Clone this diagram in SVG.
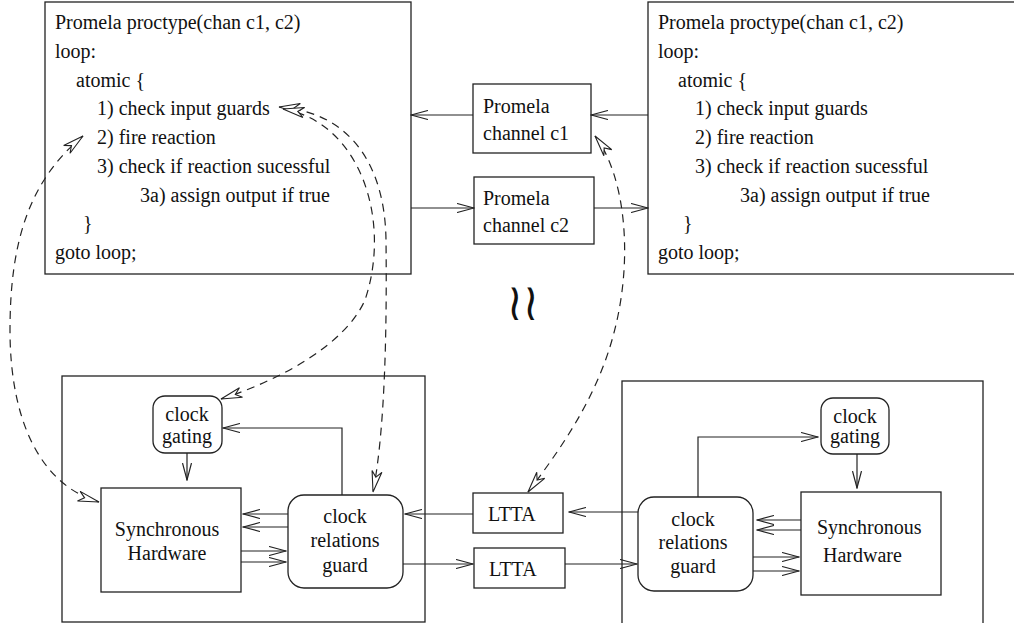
<svg xmlns="http://www.w3.org/2000/svg" width="1014" height="623" viewBox="0 0 1014 623" font-family="'Liberation Serif', 'Times New Roman', serif">
<style>
.t{font-family:'Liberation Serif','Times New Roman',serif;font-size:20px;fill:#111}
.m{text-anchor:middle}
.b{fill:none;stroke:#222;stroke-width:1.3}
.c{fill:none;stroke:#222;stroke-width:1.2}
.d{fill:none;stroke:#222;stroke-width:1.2;stroke-dasharray:8 6}
</style>
<defs>
<marker id="v" viewBox="0 0 18 10" refX="17" refY="5" markerWidth="18" markerHeight="10" markerUnits="userSpaceOnUse" orient="auto">
<path d="M0,0.5 L17,5 L0,9.5" fill="none" stroke="#222" stroke-width="1.2"/>
</marker>
<marker id="h" viewBox="0 0 23 12" refX="22" refY="6" markerWidth="23" markerHeight="12" markerUnits="userSpaceOnUse" orient="auto">
<path d="M22,6 L1,1 L7,6 L1,11 Z" fill="#fff" stroke="#222" stroke-width="1.1"/>
</marker>
<marker id="hs" viewBox="0 0 23 12" refX="1" refY="6" markerWidth="23" markerHeight="12" markerUnits="userSpaceOnUse" orient="auto">
<path d="M1,6 L22,1 L16,6 L22,11 Z" fill="#fff" stroke="#222" stroke-width="1.1"/>
</marker>
</defs>
<rect width="1014" height="623" fill="#fff"/>

<g id="proc-left">
<rect class="b" x="45" y="2" width="366" height="272"/>
<text class="t" x="55" y="29">Promela proctype(chan c1, c2)</text>
<text class="t" x="55" y="58">loop:</text>
<text class="t" x="76" y="87">atomic {</text>
<text class="t" x="97" y="115">1) check input guards</text>
<text class="t" x="97" y="144">2) fire reaction</text>
<text class="t" x="97" y="173">3) check if reaction sucessful</text>
<text class="t" x="140" y="202">3a) assign output if true</text>
<text class="t" x="83" y="230">}</text>
<text class="t" x="55" y="259">goto loop;</text>
</g>

<g id="proc-right">
<rect class="b" x="648" y="2" width="370" height="272"/>
<text class="t" x="658" y="29">Promela proctype(chan c1, c2)</text>
<text class="t" x="658" y="58">loop:</text>
<text class="t" x="678" y="87">atomic {</text>
<text class="t" x="695" y="115">1) check input guards</text>
<text class="t" x="695" y="144">2) fire reaction</text>
<text class="t" x="695" y="173">3) check if reaction sucessful</text>
<text class="t" x="740" y="202">3a) assign output if true</text>
<text class="t" x="683" y="230">}</text>
<text class="t" x="658" y="259">goto loop;</text>
</g>

<g id="chan-c1">
<rect class="b" x="473" y="84" width="118" height="69"/>
<text class="t" x="483" y="113">Promela</text>
<text class="t" x="483" y="140">channel c1</text>
</g>
<g id="chan-c2">
<rect class="b" x="474" y="177" width="120" height="67"/>
<text class="t" x="483" y="205">Promela</text>
<text class="t" x="483" y="232">channel c2</text>
</g>

<g id="approx">
<text transform="translate(523,320) scale(0.8,1)" x="0" y="0" text-anchor="middle" style="font-family:'DejaVu Serif',serif;font-size:52px;fill:#111">≀≀</text>
</g>

<g id="hw-left">
<rect class="b" x="62" y="376" width="363" height="246"/>
</g>
<g id="gating-left">
<rect class="b" x="153" y="396" width="69" height="57" rx="12"/>
<text class="t m" x="187" y="421">clock</text>
<text class="t m" x="187" y="443">gating</text>
</g>
<g id="sync-left">
<rect class="b" x="101" y="488" width="140" height="104"/>
<text class="t m" x="167" y="536">Synchronous</text>
<text class="t m" x="167" y="560">Hardware</text>
</g>
<g id="guard-left">
<rect class="b" x="288" y="495" width="115" height="93" rx="16"/>
<text class="t m" x="345" y="523">clock</text>
<text class="t m" x="345" y="547">relations</text>
<text class="t m" x="345" y="572">guard</text>
</g>

<g id="ltta-top">
<rect class="b" x="473" y="493" width="90" height="40"/>
<text class="t" x="488" y="521">LTTA</text>
</g>
<g id="ltta-bottom">
<rect class="b" x="474" y="548" width="91" height="40"/>
<text class="t" x="489" y="576">LTTA</text>
</g>

<g id="hw-right">
<rect class="b" x="622" y="381" width="361" height="250"/>
</g>
<g id="gating-right">
<rect class="b" x="821" y="398" width="68" height="56" rx="12"/>
<text class="t m" x="855" y="423">clock</text>
<text class="t m" x="855" y="443">gating</text>
</g>
<g id="sync-right">
<rect class="b" x="801" y="492" width="140" height="103"/>
<text class="t" x="817" y="534">Synchronous</text>
<text class="t" x="823" y="562">Hardware</text>
</g>
<g id="guard-right">
<rect class="b" x="638" y="497" width="115" height="94" rx="16"/>
<text class="t m" x="693" y="526">clock</text>
<text class="t m" x="693" y="549">relations</text>
<text class="t m" x="693" y="573">guard</text>
</g>

<g id="connectors">
<path class="c" d="M648,115 L591,115" marker-end="url(#v)"/>
<path class="c" d="M473,115 L411,115" marker-end="url(#v)"/>
<path class="c" d="M411,208 L474,208" marker-end="url(#v)"/>
<path class="c" d="M594,208 L648,208" marker-end="url(#v)"/>
<path class="c" d="M187,453 L187,480" marker-end="url(#v)"/>
<path class="c" d="M342,495 L342,428 L223,428" marker-end="url(#v)"/>
<path class="c" d="M288,514 L243,514" marker-end="url(#v)"/>
<path class="c" d="M288,527 L243,527" marker-end="url(#v)"/>
<path class="c" d="M241,551 L286,551" marker-end="url(#v)"/>
<path class="c" d="M241,562 L286,562" marker-end="url(#v)"/>
<path class="c" d="M473,514 L405,514" marker-end="url(#v)"/>
<path class="c" d="M403,564 L473,564" marker-end="url(#v)"/>
<path class="c" d="M638,512 L569,512" marker-end="url(#v)"/>
<path class="c" d="M565,564 L637,564" marker-end="url(#v)"/>
<path class="c" d="M698,497 L698,437 L818,437" marker-end="url(#v)"/>
<path class="c" d="M857,454 L857,488" marker-end="url(#v)"/>
<path class="c" d="M801,520 L757,520" marker-end="url(#v)"/>
<path class="c" d="M801,530 L757,530" marker-end="url(#v)"/>
<path class="c" d="M753,557 L799,557" marker-end="url(#v)"/>
<path class="c" d="M753,571 L799,571" marker-end="url(#v)"/>
<path class="d" d="M83,136 C30,180 10,240 10,330 C10,420 40,485 99,502" marker-start="url(#hs)" marker-end="url(#h)"/>
<path class="d" d="M279,107 C350,112 385,165 386,240 C387,330 385,430 373,492" marker-start="url(#hs)" marker-end="url(#h)"/>
<path class="d" d="M283,109 C360,122 392,220 365,300 C345,345 280,380 221,399" marker-start="url(#hs)" marker-end="url(#h)"/>
<path class="d" d="M595,136 C625,175 635,260 612,340 C595,400 560,450 528,492" marker-start="url(#hs)" marker-end="url(#h)"/>
</g>
</svg>
